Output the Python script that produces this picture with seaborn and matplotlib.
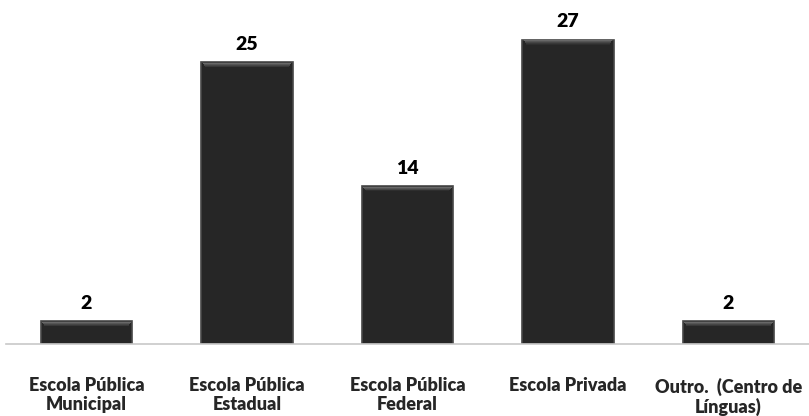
import matplotlib
matplotlib.use("Agg")
import matplotlib.pyplot as plt
import seaborn as sns
import pandas as pd

categories = ["Escola Pública\nMunicipal", "Escola Pública\nEstadual", "Escola Pública\nFederal",
              "Escola Privada", "Outro.  (Centro de\nLínguas)"]
values = [2, 25, 14, 27, 2]

sns.set_style("white")
plt.rcParams["font.family"] = ["Lato", "DejaVu Sans"]

df = pd.DataFrame({"categoria": categories, "valor": values})

fig = plt.figure(figsize=(8.09, 4.16), dpi=100)
ax = fig.add_axes([6.25 / 809, 72 / 416, 802.5 / 809, 344 / 416])
sns.barplot(data=df, x="categoria", y="valor", color="#262626", width=0.567,
            edgecolor="#474747", linewidth=1.2, saturation=1, ax=ax)

# soft bevel along the top of each bar: thin bands fading from light to the bar colour
shades = ["#686868", "#555555", "#454545", "#383838", "#2e2e2e"]
for p in ax.patches:
    x0, w, h = p.get_x(), p.get_width(), p.get_height()
    for i, col in enumerate(shades):
        top = h - 0.04 - i * 0.08
        ax.fill_between([x0 + w * 0.015 + i * 0.004, x0 + w * 0.985 - i * 0.004],
                        top - 0.08, top, color=col, linewidth=0,
                        zorder=p.get_zorder() + 0.1)

ax.set_ylim(0, 30.55)
ax.set_xlim(-0.5, len(values) - 0.5)
for c in ax.containers:
    ax.bar_label(c, labels=[str(v) for v in values], padding=7,
                 fontsize=14, fontweight="heavy", color="black")

ax.set_xlabel("")
ax.set_ylabel("")
ax.set_yticks([])
ax.tick_params(axis="x", length=0, pad=24, labelsize=13)
for lab in ax.get_xticklabels():
    lab.set_fontweight("heavy")
    lab.set_linespacing(1.15)
    lab.set_verticalalignment("top")
for s in ["top", "left", "right"]:
    ax.spines[s].set_visible(False)
ax.spines["bottom"].set_color("#c8c8c8")
ax.spines["bottom"].set_linewidth(1.2)

fig.savefig("out.png", dpi=100)
